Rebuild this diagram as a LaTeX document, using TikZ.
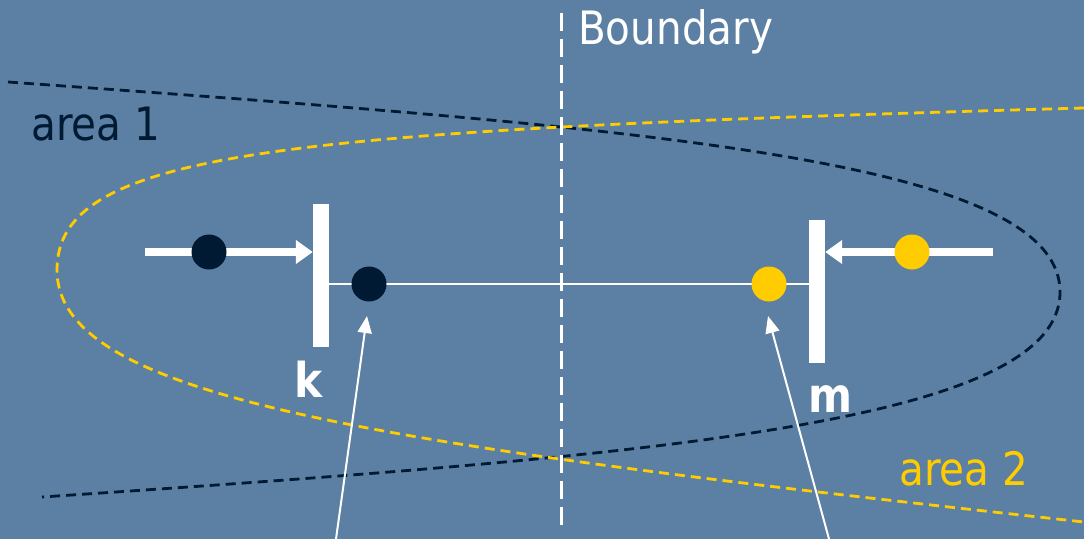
\documentclass[tikz,border=0pt]{standalone}
\usepackage{fontspec}
\usetikzlibrary{arrows.meta}
\newfontfamily\labfont{DejaVu Sans}[FakeStretch=0.88]
\newfontfamily\labbold{DejaVu Sans Bold}[FakeStretch=0.88]
\definecolor{bgblue}{RGB}{92,127,164}
\definecolor{navy}{RGB}{0,26,51}
\definecolor{gold}{RGB}{255,204,0}
\tikzset{
  curveline/.style={line width=2.8pt, dash pattern=on 10pt off 6pt},
  bar/.style={fill=white, draw=none, minimum width=16pt, minimum height=143pt, inner sep=0pt},
  dot/.style={circle, minimum size=35pt, inner sep=0pt},
  thickarrow/.style={draw=white, line width=7.5pt, -{Triangle[length=17pt,width=23pt]}},
  thinarrow/.style={draw=white, line width=2pt, -{Triangle[length=17pt,width=14pt]}},
  lab/.style={font=\labfont\fontsize{46}{50}\selectfont, inner sep=0pt},
  boldlab/.style={font=\labbold\fontsize{48}{52}\selectfont, text=white, inner sep=0pt}
}
\begin{document}
\begin{tikzpicture}[x=1pt,y=-1pt]
\fill[bgblue] (0,0) rectangle (1084,539);
\useasboundingbox (0,0) rectangle (1084,539);
% region curves
\draw[curveline, navy] (8,82) .. controls (650,128) and (1060,160) .. (1060,292)
                               .. controls (1060,424) and (650,456) .. (42,497);
\draw[curveline, gold] (1084,108) .. controls (284,130) and (57,150) .. (57,270)
                               .. controls (57,400) and (384,445) .. (1084,522);
% boundary
\coordinate (btop) at (561,13);
\coordinate (bbot) at (561,525);
\draw[white, line width=3pt, dash pattern=on 18pt off 8pt] (btop) -- (bbot);
\node[lab, text=white, anchor=base west] (boundary) at (578,44) {Boundary};
% bars
\node[bar] (barK) at (321,275.5) {};
\node[bar] (barM) at (817,291.5) {};
% dot positions
\coordinate (pA) at (209,252);
\coordinate (pK) at (369,284);
\coordinate (pM) at (769,284);
\coordinate (pB) at (912,252);
% thin line between bars
\draw[white, line width=2pt] (barK.east |- pK) -- (barM.west |- pK);
% thick arrows
\coordinate (startA) at (145,252);
\coordinate (startB) at (993,252);
\draw[thickarrow] (startA) -- (barK.west |- pA);
\draw[thickarrow] (startB) -- (barM.east |- pB);
% dots
\node[dot, fill=navy] (dotA) at (pA) {};
\node[dot, fill=navy] (dotK) at (pK) {};
\node[dot, fill=gold] (dotM) at (pM) {};
\node[dot, fill=gold] (dotB) at (pB) {};
% thin arrows
\coordinate (tailK) at (336,539);
\coordinate (tipK) at (367,316);
\coordinate (tailM) at (829,539);
\coordinate (tipM) at (768,316);
\draw[thinarrow] (tailK) -- (tipK);
\draw[thinarrow] (tailM) -- (tipM);
% labels
\node[boldlab, anchor=base] (labK) at (309,397) {k};
\node[boldlab, anchor=base] (labM) at (830,412) {m};
\node[lab, text=navy, anchor=base west] (area1) at (31,140) {area 1};
\node[lab, text=gold, anchor=base west] (area2) at (899,485) {area 2};
\end{tikzpicture}
\end{document}
